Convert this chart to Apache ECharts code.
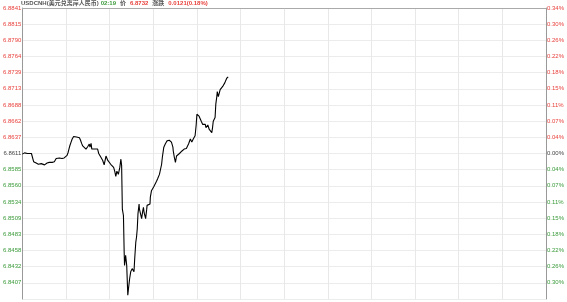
<!DOCTYPE html>
<html><head><meta charset="utf-8">
<script src="https://cdn.jsdelivr.net/npm/echarts@6/dist/echarts.min.js"></script>
<style>html,body{margin:0;padding:0;background:#fff}#c{width:567px;height:302px}</style>
</head><body><div id="c"></div>
<script>
// minutes since open
const times = [
0,4,6,9,14,19,25,29,31,36,
38,41,44,46,49,52,55,57,61,63,
66,68,71,74,77,79,82,85,88,93,
96,98,102,104,107,109,112,115,120,123,
126,129,131,134,137,139,141,143,146,149,
152,157,160,163,166,169,175,178,180,184,
186,189,191,193,197,202,207,210,213,216,
219,221,225,230,232,235,239,240,243,248,
251,254,257,260,261,264,266,268,271,273,
275,278,280,281,284,287,290,292,295,298,
301,302,307,309,312,314,316,318,321,322,
325,328,331,333,335,339,342,343,347,351,
352,355,357,361,366,369,372,375,377,380,
383,385,389,393,398,402,404,407,410,412,
414,415,418,421,424,425,429,432,434,439,
443,445,448,451,454,457,459,462,466,470,
475,478,480,482,484,486,489,492,494,496,
498,500,503,505,507,510,512,514,516,519,
521,523,525,527,530,532,535,536,537,539,
541,544,546,548,551,553,555,557,560,562,
564,566];
const prices = [
6.8610,6.8608,6.8612,6.8610,6.8611,6.8610,6.8611,6.8611,6.8598,6.8597,
6.8596,6.8597,6.8594,6.8596,6.8593,6.8595,6.8594,6.8596,6.8593,6.8596,
6.8594,6.8596,6.8595,6.8597,6.8596,6.8597,6.8597,6.8597,6.8598,6.8603,
6.8601,6.8602,6.8604,6.8602,6.8604,6.8603,6.8605,6.8604,6.8607,6.8608,
6.8613,6.8620,6.8624,6.8629,6.8634,6.8636,6.8638,6.8639,6.8638,6.8637,
6.8638,6.8636,6.8632,6.8627,6.8623,6.8621,6.8618,6.8619,6.8622,6.8626,
6.8621,6.8627,6.8618,6.8615,6.8618,6.8620,6.8618,6.8611,6.8608,6.8605,
6.8608,6.8600,6.8593,6.8607,6.8604,6.8600,6.8599,6.8602,6.8594,6.8597,
6.8589,6.8583,6.8575,6.8583,6.8584,6.8578,6.8581,6.8589,6.8602,6.8592,
6.8523,6.8513,6.8455,6.8434,6.8450,6.8434,6.8387,6.8398,6.8413,6.8424,
6.8421,6.8429,6.8424,6.8445,6.8471,6.8479,6.8492,6.8516,6.8531,6.8523,
6.8526,6.8508,6.8520,6.8526,6.8517,6.8508,6.8523,6.8529,6.8528,6.8531,
6.8542,6.8552,6.8555,6.8558,6.8560,6.8567,6.8571,6.8573,6.8578,6.8581,
6.8594,6.8605,6.8621,6.8626,6.8631,6.8629,6.8632,6.8631,6.8629,6.8626,
6.8621,6.8615,6.8605,6.8597,6.8607,6.8610,6.8608,6.8611,6.8612,6.8615,
6.8613,6.8618,6.8620,6.8619,6.8621,6.8626,6.8627,6.8634,6.8629,6.8634,
6.8639,6.8656,6.8673,6.8671,6.8675,6.8670,6.8668,6.8662,6.8662,6.8657,
6.8654,6.8659,6.8657,6.8652,6.8652,6.8656,6.8654,6.8649,6.8647,6.8648,
6.8644,6.8652,6.8662,6.8665,6.8668,6.8689,6.8702,6.8709,6.8709,6.8701,
6.8704,6.8712,6.8715,6.8712,6.8717,6.8715,6.8720,6.8723,6.8725,6.8730,
6.8728,6.8732];

// tick labels, top to bottom
const priceLabels = ['6.8841','6.8815','6.8790','6.8764','6.8739','6.8713','6.8688','6.8662','6.8637',
  '6.8611','6.8585','6.8560','6.8534','6.8509','6.8483','6.8458','6.8432','6.8407',''];
const pctLabels = ['0.34%','0.30%','0.26%','0.22%','0.18%','0.15%','0.11%','0.07%','0.04%',
  '0.00%','0.04%','0.07%','0.11%','0.15%','0.18%','0.22%','0.26%','0.30%',''];

const priceMin = 6.8381, priceMax = 6.8841;
const dayMinutes = 1440;

const titleParts = {name:'USDCNH(美元兑离岸人民币)', time:'02:19', priceLbl:'价', price:'6.8732', chgLbl:'涨跌', chg:'0.0121(0.18%)'};

const RED = '#e8413c', GREEN = '#3a9a3a', GRAY = '#444';
function colorFor(v){ return v > 0 ? RED : (v < 0 ? GREEN : GRAY); }

const chart = echarts.init(document.getElementById('c'), null, {renderer:'canvas'});
const tf = 'Arial, "Liberation Sans", "Noto Sans CJK SC", sans-serif';
chart.setOption({
  animation:false,
  backgroundColor:'#fff',
  title:{
    left:21, top:0, padding:0,
    text:`{a|${titleParts.name}}{g|${titleParts.time}}{b|${titleParts.priceLbl}}{r|${titleParts.price}}{b|${titleParts.chgLbl}}{r|${titleParts.chg}}`,
    textStyle:{rich:{
      a:{fontSize:6,color:'#555',fontFamily:tf},
      b:{fontSize:6,color:'#555',fontFamily:tf,padding:[0,0,0,4]},
      g:{fontSize:6,color:GREEN,fontFamily:tf,padding:[0,0,0,2]},
      r:{fontSize:6,color:RED,fontFamily:tf,padding:[0,0,0,4]}
    }}
  },
  grid:{left:21, right:18.5, top:8, bottom:3, containLabel:false},
  xAxis:{
    type:'value', min:0, max:dayMinutes, interval:120, position:'top',
    axisLine:{show:true, onZero:false, lineStyle:{color:'#aaa', width:1}},
    axisTick:{show:false}, axisLabel:{show:false},
    splitLine:{show:true, lineStyle:{color:'#e8e8e8', width:1}}
  },
  yAxis:[
    {
      type:'value', min:-9, max:9, interval:1, position:'left',
      axisLine:{show:true, onZero:false, lineStyle:{color:'#999'}},
      axisTick:{show:false},
      splitLine:{show:true, lineStyle:{color:'#ececec'}},
      axisLabel:{margin:1, fontSize:6, fontFamily:tf,
        formatter:(v)=>priceLabels[9 - Math.round(v)],
        color:(v)=>colorFor(Math.round(v))}
    },
    {
      type:'value', min:-9, max:9, interval:1, position:'right',
      axisLine:{show:true, onZero:false, lineStyle:{color:'#999'}},
      axisTick:{show:false}, splitLine:{show:false},
      axisLabel:{margin:1, fontSize:6, fontFamily:tf,
        formatter:(v)=>pctLabels[9 - Math.round(v)],
        color:(v)=>colorFor(Math.round(v))}
    },
    {
      type:'value', min:priceMin, max:priceMax, show:false,
      splitLine:{show:false}
    }
  ],
  series:[{
    type:'line', yAxisIndex:2, showSymbol:false, symbol:'none',
    lineStyle:{color:'#000', width:1.1},
    data: times.map((t,i)=>[t, prices[i]])
  }]
});
</script></body></html>
